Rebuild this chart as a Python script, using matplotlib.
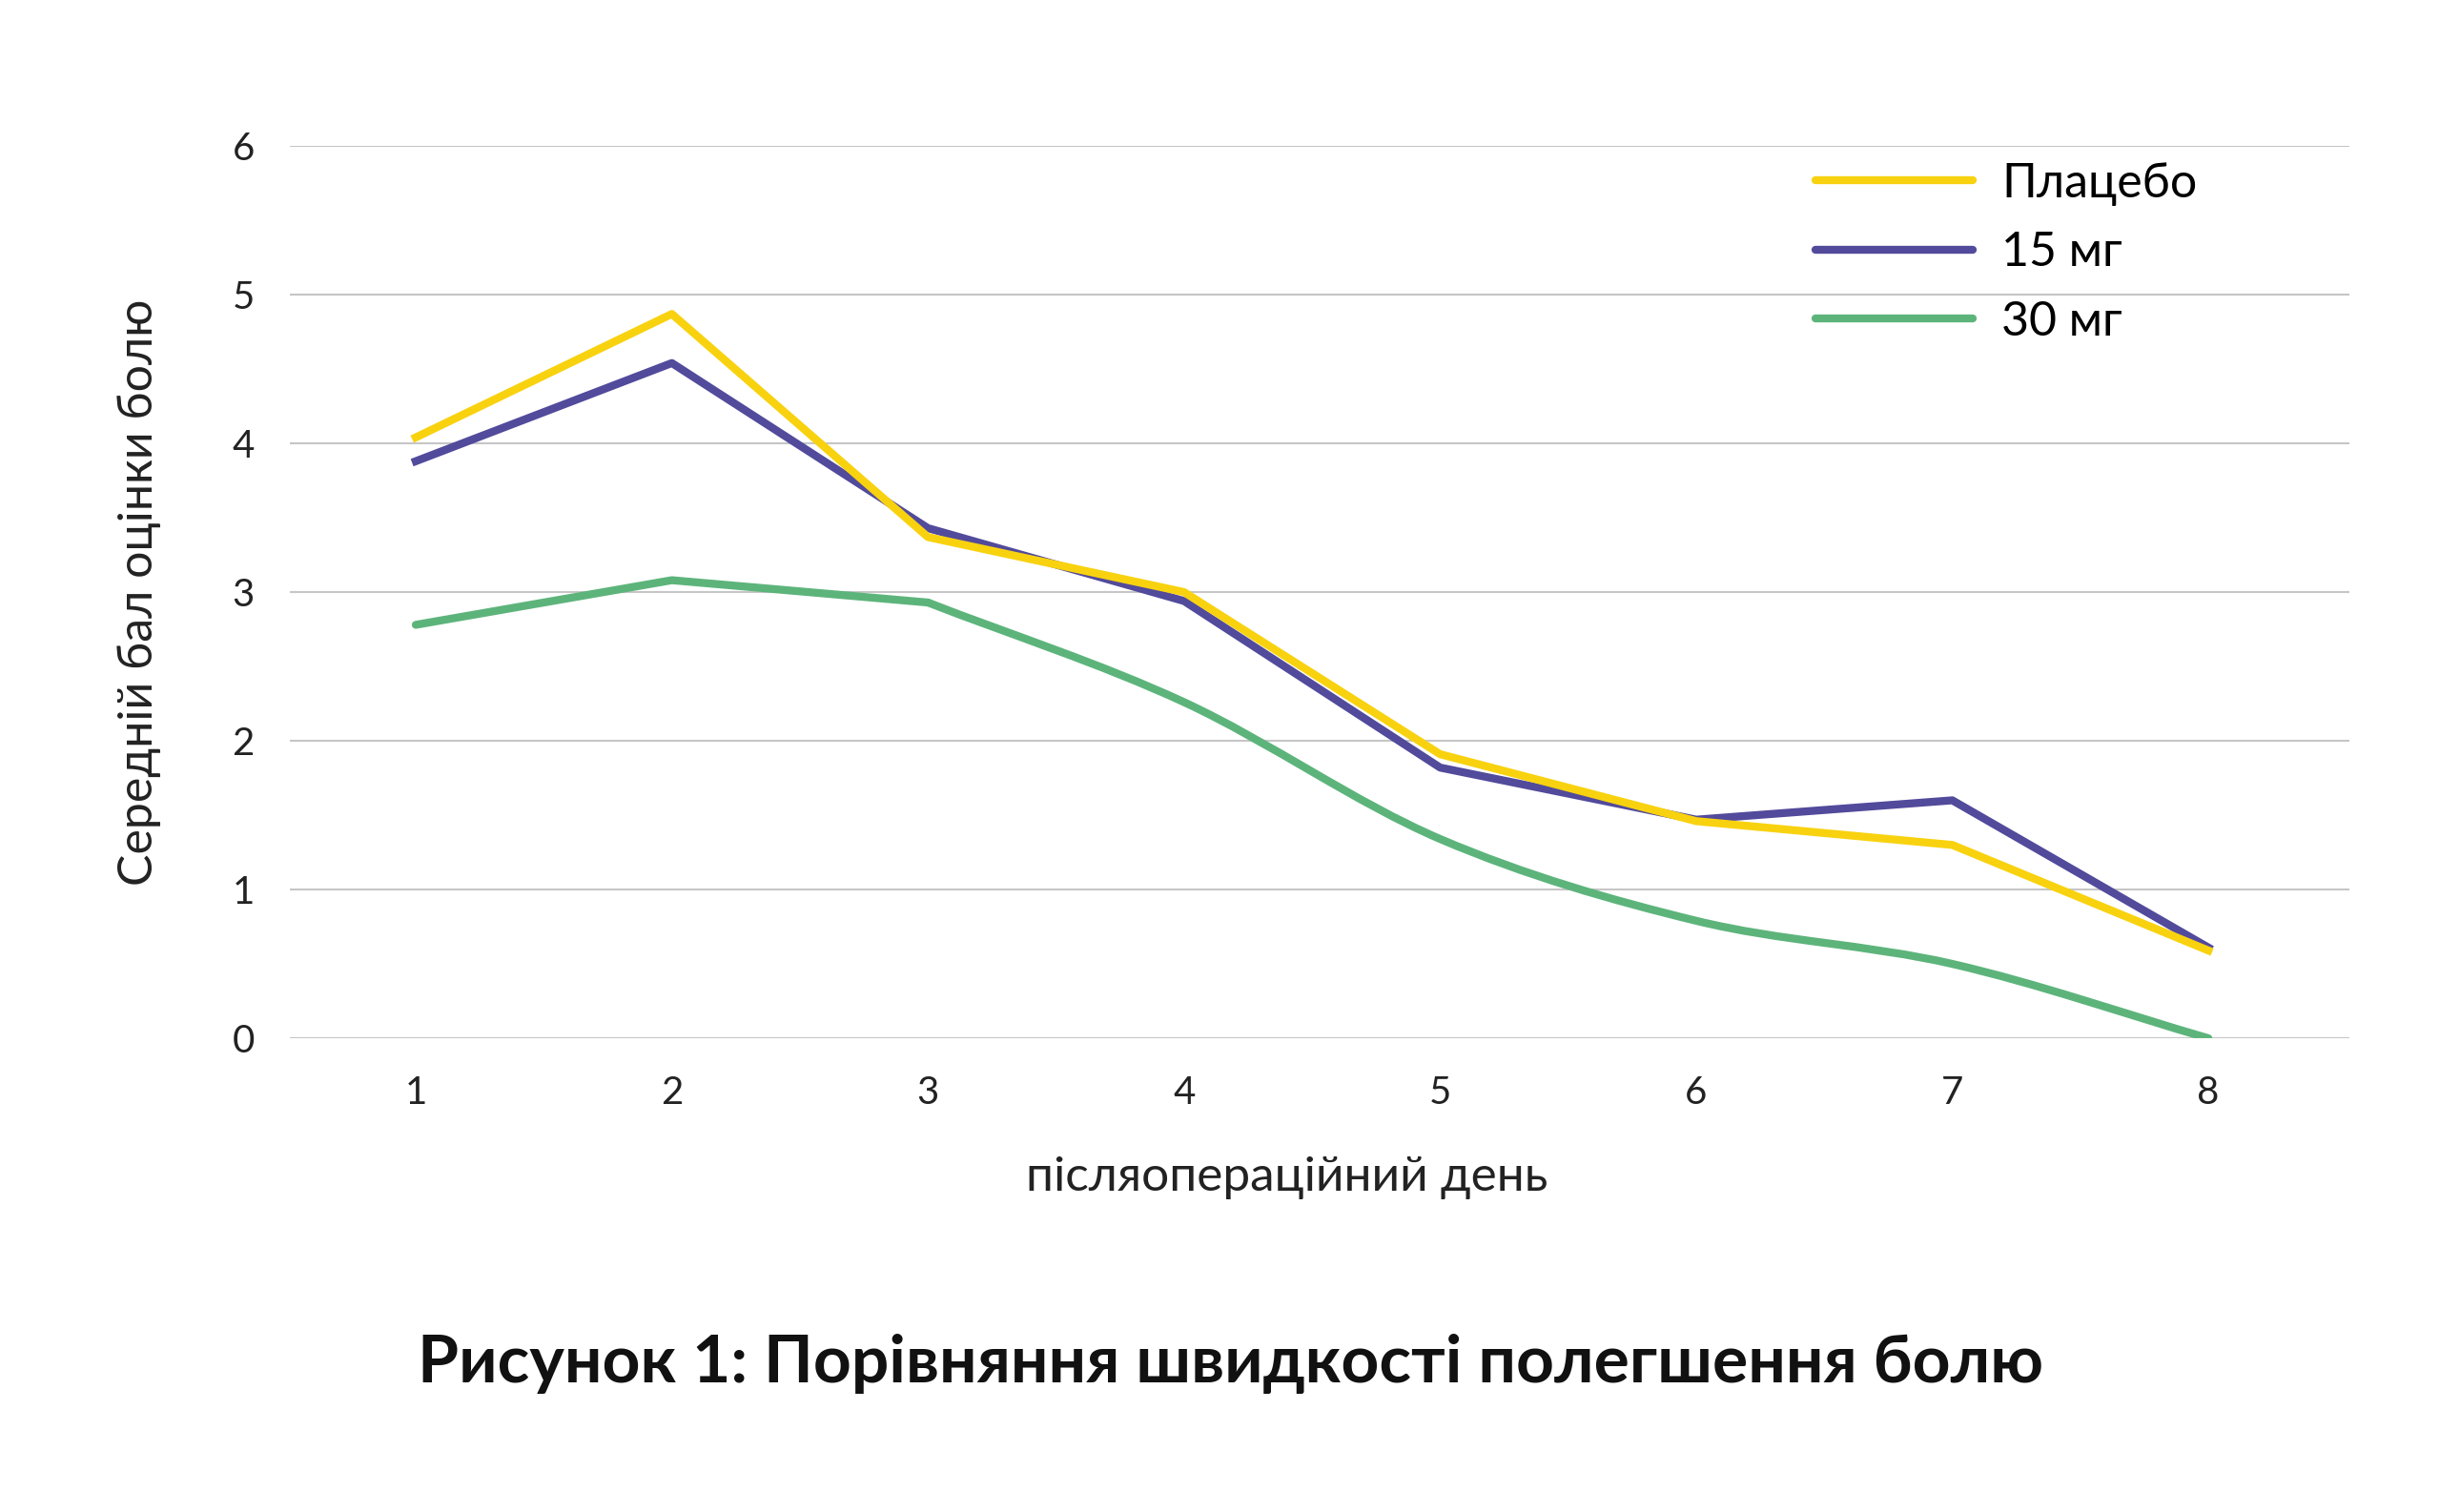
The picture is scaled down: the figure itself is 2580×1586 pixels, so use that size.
import matplotlib.pyplot as plt
from matplotlib.path import Path
from matplotlib.patches import PathPatch
from matplotlib.lines import Line2D
import numpy as np

plt.rcParams['font.family'] = ['Lato', 'DejaVu Sans']

days = [1, 2, 3, 4, 5, 6, 7, 8]
placebo = [4.04, 4.87, 3.37, 3.00, 1.91, 1.46, 1.30, 0.59]
mg15 = [3.88, 4.54, 3.43, 2.94, 1.82, 1.47, 1.60, 0.61]
mg30 = [2.78, 3.08, 2.93, 2.26, 1.34, 0.79, 0.50, 0.00]

series_names = ['Плацебо', '15 мг', '30 мг']
colors = ['#F8D20F', '#524A9B', '#5DB47B']


def smooth_path(x, y):
    # bezier through the points (smoothed line look)
    pts = np.column_stack([x, y]).astype(float)
    ext = np.vstack([2 * pts[0] - pts[1], pts, 2 * pts[-1] - pts[-2]])
    verts = [pts[0]]
    codes = [Path.MOVETO]
    for i in range(len(pts) - 1):
        p0, p1, p2, p3 = ext[i], ext[i + 1], ext[i + 2], ext[i + 3]
        verts += [p1 + (p2 - p0) / 6, p2 - (p3 - p1) / 6, p2]
        codes += [Path.CURVE4] * 3
    return Path(verts, codes)


fig = plt.figure(figsize=(25.8, 15.86), dpi=100)
ax = fig.add_axes([0.118, 0.3133, 0.837, 0.5902])

lw = 6
ax.plot(days, placebo, color=colors[0], lw=lw, zorder=4)
ax.plot(days, mg15, color=colors[1], lw=lw, zorder=3)
# first part of the 30 mg line is straight, the rest is smoothed
ax.plot(days[:3], mg30[:3], color=colors[2], lw=lw, zorder=2,
        solid_capstyle='round')
ax.add_patch(PathPatch(smooth_path(days[2:], mg30[2:]), fill=False,
                       edgecolor=colors[2], lw=lw, zorder=2, capstyle='round'))

ax.set_xlim(0.51, 8.55)
ax.set_ylim(0, 6)
ax.set_xticks(days)
ax.set_yticks(range(7))
ax.tick_params(length=0, labelsize=29, colors='#222222')
ax.tick_params(axis='x', pad=28)
ax.tick_params(axis='y', pad=27)
ax.grid(axis='y', color='#C6C6C6', lw=1.5)
ax.set_axisbelow(True)
for s in ax.spines.values():
    s.set_visible(False)

ax.set_ylabel('Середній бал оцінки болю', fontsize=36, labelpad=54, color='#222222')
ax.set_xlabel('післяопераційний день', fontsize=37, color='#222222')
ax.xaxis.set_label_coords(0.484, -0.131)

handles = [Line2D([], [], color=c, lw=lw, solid_capstyle='round') for c in colors]
fig.legend(handles, series_names, loc='upper left', bbox_to_anchor=(0.738, 0.893),
           frameon=False, fontsize=36, handlelength=3.3, handletextpad=0.6,
           labelspacing=0.53, borderpad=0, borderaxespad=0)

fig.text(0.5, 0.098, 'Рисунок 1: Порівняння швидкості полегшення болю',
         ha='center', va='center', fontsize=50, fontweight='bold', color='#111111')

fig.savefig('out.png', dpi=100)
